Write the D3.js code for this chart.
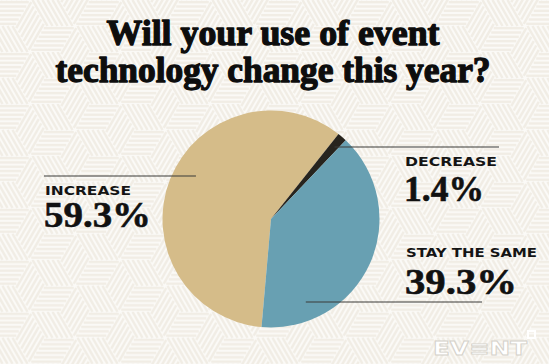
<!DOCTYPE html>
<html>
<head>
<meta charset="utf-8">
<script src="https://cdn.jsdelivr.net/npm/d3@7/dist/d3.min.js"></script>
<style>
html, body { margin: 0; padding: 0; background: #fbfaf7; }
svg { display: block; }
</style>
</head>
<body>
<script>
// chart data
var categories = ["INCREASE", "DECREASE", "STAY THE SAME"];
var values = [59.3, 1.4, 39.3];
var valueLabels = ["59.3%", "1.4%", "39.3%"];
var sliceColors = ["#d5bc89", "#27241e", "#68a0b2"];
var titleLines = ["Will your use of event", "technology change this year?"];

var width = 549, height = 364;
var cx = 271, cy = 219, radius = 108.5;

var svg = d3.select("body").append("svg")
    .attr("width", width)
    .attr("height", height);

// background: striped tumbling blocks
var s = 30, h3 = s * Math.sqrt(3);
var defs = svg.append("defs");
var pat = defs.append("pattern")
    .attr("id", "blocks")
    .attr("patternUnits", "userSpaceOnUse")
    .attr("width", 3 * s)
    .attr("height", h3);
pat.append("rect").attr("width", 3 * s).attr("height", h3).attr("fill", "#fbfaf7");

function hexStripes(hx, hy) {
    var v = d3.range(6).map(function (k) {
        var a = k * Math.PI / 3;
        return [hx + s * Math.cos(a), hy + s * Math.sin(a)];
    });
    var c = [hx, hy];
    var rhombi = [[c, v[0], v[1], v[2]], [c, v[2], v[3], v[4]], [c, v[4], v[5], v[0]]];
    var segs = [];
    rhombi.forEach(function (R) {
        var A = R[0], B = R[1], C = R[2], D = R[3];
        for (var i = 0; i < 6; i++) {
            var t = (i + 0.5) / 6;
            segs.push([A[0] + t * (D[0] - A[0]), A[1] + t * (D[1] - A[1]),
                       B[0] + t * (C[0] - B[0]), B[1] + t * (C[1] - B[1])]);
        }
    });
    return segs;
}
[[0, 0], [3 * s, 0], [1.5 * s, h3 / 2], [0, h3], [3 * s, h3]].forEach(function (p) {
    pat.selectAll(null)
        .data(hexStripes(p[0], p[1]))
        .enter().append("line")
        .attr("x1", function (d) { return d[0]; })
        .attr("y1", function (d) { return d[1]; })
        .attr("x2", function (d) { return d[2]; })
        .attr("y2", function (d) { return d[3]; })
        .attr("stroke", "#f1ede5")
        .attr("stroke-width", 2.4);
});
svg.append("rect").attr("width", width).attr("height", height).attr("fill", "url(#blocks)");

// title
svg.append("g").selectAll("text")
    .data(titleLines)
    .enter().append("text")
    .attr("x", 273)
    .attr("y", function (d, i) { return 45 + i * 37; })
    .attr("text-anchor", "middle")
    .attr("textLength", function (d, i) { return i === 0 ? 333 : 435; })
    .attr("lengthAdjust", "spacingAndGlyphs")
    .style("font-family", "'Liberation Serif', 'DejaVu Serif', serif")
    .style("font-weight", "700")
    .style("font-size", "36px")
    .style("fill", "#0d0d0d")
    .style("stroke", "#0d0d0d")
    .style("stroke-width", "1.3px")
    .style("stroke-linejoin", "round")
    .text(function (d) { return d; });

// pie
var start = 185 * Math.PI / 180;
var pie = d3.pie().sort(null).value(function (d) { return d; })
    .startAngle(start).endAngle(start + 2 * Math.PI);
var arc = d3.arc().innerRadius(0).outerRadius(radius);
var arcs = pie(values);

svg.append("g")
    .attr("transform", "translate(" + cx + "," + cy + ")")
    .selectAll("path")
    .data(arcs)
    .enter().append("path")
    .attr("d", arc)
    .attr("fill", function (d, i) { return sliceColors[i]; });

// leader lines and labels (layout only)
var layout = [
    { lineY: 176, lineR: 86.5, side: -1, lineEnd: 44,  lx: 45,  ly: 195, nx: 44,  ny: 227, lw: 86,  nw: 107 },
    { lineY: 147, lineR: 96,   side: 1,  lineEnd: 499, lx: 405, ly: 166, nx: 404, ny: 201, lw: 92,  nw: 80 },
    { lineY: 302, lineR: 90,   side: 1,  lineEnd: 482, lx: 406, ly: 257, nx: 405, ny: 294, lw: 131, nw: 112 }
];

var ann = svg.append("g").selectAll("g")
    .data(categories)
    .enter().append("g");

ann.append("line")
    .attr("x1", function (d, i) {
        var L = layout[i], dy = L.lineY - cy;
        return cx + L.side * Math.sqrt(L.lineR * L.lineR - dy * dy);
    })
    .attr("y1", function (d, i) { return layout[i].lineY; })
    .attr("x2", function (d, i) { return layout[i].lineEnd; })
    .attr("y2", function (d, i) { return layout[i].lineY; })
    .attr("stroke", "#3a3a38")
    .attr("stroke-width", 1.1);

ann.append("text")
    .attr("x", function (d, i) { return layout[i].lx; })
    .attr("y", function (d, i) { return layout[i].ly; })
    .attr("textLength", function (d, i) { return layout[i].lw; })
    .attr("lengthAdjust", "spacingAndGlyphs")
    .style("font-family", "'DejaVu Sans', sans-serif")
    .style("font-weight", "700")
    .style("font-size", "13px")
    .style("fill", "#141414")
    .text(function (d) { return d; });

ann.append("text")
    .attr("x", function (d, i) { return layout[i].nx; })
    .attr("y", function (d, i) { return layout[i].ny; })
    .attr("textLength", function (d, i) { return layout[i].nw; })
    .attr("lengthAdjust", "spacingAndGlyphs")
    .style("font-family", "'Liberation Serif', serif")
    .style("font-weight", "700")
    .style("font-size", "36px")
    .style("fill", "#111")
    .style("stroke", "#111")
    .style("stroke-width", "0.6px")
    .text(function (d, i) { return valueLabels[i]; });

// logo
var logo = svg.append("g");
logo.append("text")
    .attr("x", 433)
    .attr("y", 355)
    .attr("textLength", 94)
    .attr("lengthAdjust", "spacingAndGlyphs")
    .style("font-family", "'DejaVu Sans', sans-serif")
    .style("font-weight", "700")
    .style("font-size", "19px")
    .style("fill", "#ffffff")
    .style("stroke", "#d4d1ca")
    .style("stroke-width", "0.8")
    .text("EV\u2261NT");
logo.append("rect")
    .attr("x", 528).attr("y", 331).attr("width", 7).attr("height", 7)
    .attr("fill", "none")
    .attr("stroke", "#ffffff")
    .attr("stroke-width", 2);
</script>
</body>
</html>
